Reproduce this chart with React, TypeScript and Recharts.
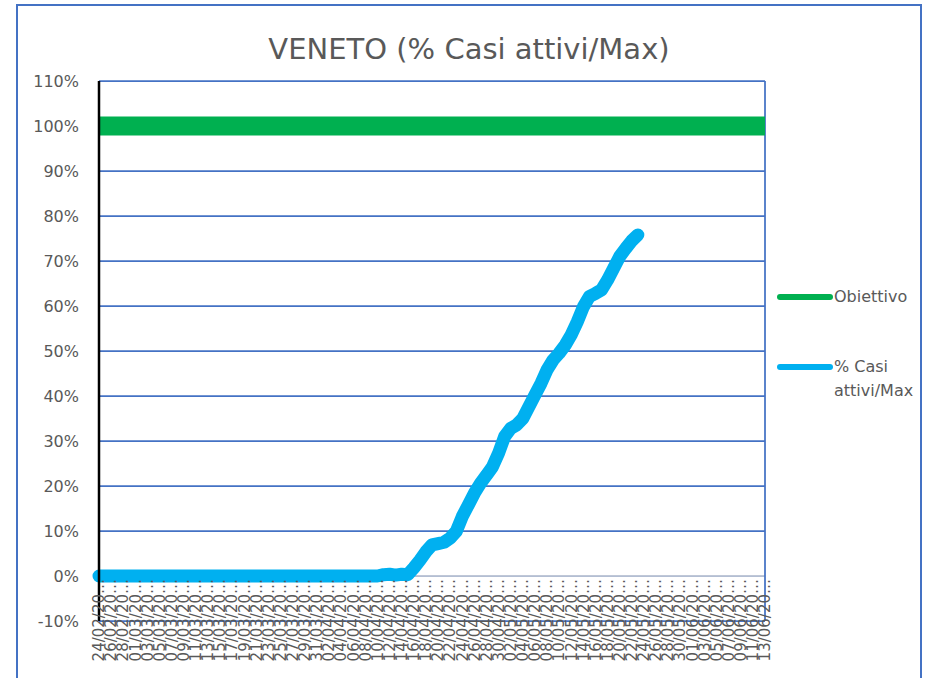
import { CartesianGrid, Legend, Line, LineChart, ReferenceLine, XAxis, YAxis } from 'recharts';

const DATES = [
  '24/02/2020', '25/02/2020', '26/02/2020', '27/02/2020', '28/02/2020', '29/02/2020',
  '01/03/2020', '02/03/2020', '03/03/2020', '04/03/2020', '05/03/2020', '06/03/2020', '07/03/2020', '08/03/2020',
  '09/03/2020', '10/03/2020', '11/03/2020', '12/03/2020', '13/03/2020', '14/03/2020', '15/03/2020', '16/03/2020',
  '17/03/2020', '18/03/2020', '19/03/2020', '20/03/2020', '21/03/2020', '22/03/2020', '23/03/2020', '24/03/2020',
  '25/03/2020', '26/03/2020', '27/03/2020', '28/03/2020', '29/03/2020', '30/03/2020', '31/03/2020',
  '01/04/2020', '02/04/2020', '03/04/2020', '04/04/2020', '05/04/2020', '06/04/2020', '07/04/2020', '08/04/2020',
  '09/04/2020', '10/04/2020', '11/04/2020', '12/04/2020', '13/04/2020', '14/04/2020', '15/04/2020', '16/04/2020',
  '17/04/2020', '18/04/2020', '19/04/2020', '20/04/2020', '21/04/2020', '22/04/2020', '23/04/2020', '24/04/2020',
  '25/04/2020', '26/04/2020', '27/04/2020', '28/04/2020', '29/04/2020', '30/04/2020',
  '01/05/2020', '02/05/2020', '03/05/2020', '04/05/2020', '05/05/2020', '06/05/2020', '07/05/2020', '08/05/2020',
  '09/05/2020', '10/05/2020', '11/05/2020', '12/05/2020', '13/05/2020', '14/05/2020', '15/05/2020', '16/05/2020',
  '17/05/2020', '18/05/2020', '19/05/2020', '20/05/2020', '21/05/2020', '22/05/2020', '23/05/2020', '24/05/2020',
  '25/05/2020', '26/05/2020', '27/05/2020', '28/05/2020', '29/05/2020', '30/05/2020', '31/05/2020',
  '01/06/2020', '02/06/2020', '03/06/2020', '04/06/2020', '05/06/2020', '06/06/2020', '07/06/2020', '08/06/2020',
  '09/06/2020', '10/06/2020', '11/06/2020', '12/06/2020', '13/06/2020'
];

// % casi attivi / max, one value per day from 24/02 (later days have no data yet)
const CASI_ATTIVI = [
  0, 0, 0, 0, 0, 0, 0, 0, 0, 0,
  0, 0, 0, 0, 0, 0, 0, 0, 0, 0,
  0, 0, 0, 0, 0, 0, 0, 0, 0, 0,
  0, 0, 0, 0, 0, 0, 0, 0, 0, 0,
  0, 0, 0, 0, 0, 0, 0, 0.3, 0.4, 0.2,
  0.4, 0.3, 1.8, 3.5, 5.4, 6.9, 7.2, 7.5, 8.4, 9.9,
  13.2, 15.8, 18.4, 20.6, 22.4, 24.3, 27.3, 31.0, 32.8, 33.6,
  35.0, 37.6, 40.2, 42.8, 45.8, 48.0, 49.5, 51.3, 53.6, 56.5,
  59.8, 62.1, 62.8, 63.6, 65.8, 68.4, 71.0, 72.8, 74.5, 75.8
];

const OBIETTIVO = 100;

const SERIES_ORDER = ['obiettivo', 'casi'];

const Y_MIN = -10;
const Y_MAX = 110;
const Y_TICKS = [-10, 0, 10, 20, 30, 40, 50, 60, 70, 80, 90, 100, 110];

const data = DATES.map((date, i) => ({
  date,
  obiettivo: OBIETTIVO,
  casi: i < CASI_ATTIVI.length ? CASI_ATTIVI[i] : null
}));

const FONT = '"DejaVu Sans", sans-serif';
const TEXT = '#595959';
const GRID = '#4472C4';

const CHART_W = 933;
const CHART_H = 678;
const MARGIN = { top: 81, right: 168, left: 19, bottom: 0 };
const X_AXIS_H = 57;
const PLOT_H = CHART_H - MARGIN.top - MARGIN.bottom - X_AXIS_H;
// the date labels hang from the 0% line, not from the bottom of the plot
const ZERO_LIFT = (PLOT_H * (0 - Y_MIN)) / (Y_MAX - Y_MIN);

const DateTick = ({ x, y, payload }: any) => {
  const ty = y - ZERO_LIFT + 3;
  return (
    <text
      x={x}
      y={ty}
      dy="0.35em"
      transform={`rotate(-90 ${x} ${ty})`}
      textAnchor="end"
      fill={TEXT}
      fontSize={15}
      fontFamily={FONT}
    >
      {String(payload.value).slice(0, 8) + '…'}
    </text>
  );
};

const LegendBox = ({ payload }: any) => {
  const items = [...(payload || [])].sort(
    (a: any, b: any) => SERIES_ORDER.indexOf(a.dataKey) - SERIES_ORDER.indexOf(b.dataKey)
  );
  return (
    <div style={{ fontFamily: FONT, fontSize: 16, color: TEXT }}>
      {items.map((item: any, i: number) => (
        <div key={item.value} style={{ display: 'flex', alignItems: 'flex-start', marginTop: i === 0 ? 0 : 46 }}>
          <svg width={58} height={24} style={{ flex: 'none' }}>
            <line x1={4} y1={12} x2={54} y2={12} stroke={item.color} strokeWidth={6} strokeLinecap="round" />
          </svg>
          <span style={{ width: 86, lineHeight: '24px' }}>{item.value}</span>
        </div>
      ))}
    </div>
  );
};

export default function App() {
  return (
    <div
      style={{
        position: 'absolute',
        left: 0,
        top: 0,
        width: CHART_W,
        height: CHART_H,
        overflow: 'hidden',
        background: '#fff',
        fontFamily: FONT
      }}
    >
      <div
        style={{
          position: 'absolute',
          left: 16,
          top: 4,
          width: 902,
          height: 720,
          border: `2px solid ${GRID}`
        }}
      />
      <div
        style={{
          position: 'absolute',
          left: 0,
          top: 32,
          width: 938,
          textAlign: 'center',
          fontSize: 29,
          color: TEXT,
          lineHeight: 'normal'
        }}
      >
        VENETO (% Casi attivi/Max)
      </div>
      <div style={{ position: 'absolute', left: 0, top: 0 }}>
        <LineChart width={CHART_W} height={CHART_H} data={data} margin={MARGIN}>
          <CartesianGrid vertical={false} stroke={GRID} strokeWidth={1.75} />
          <XAxis
            dataKey="date"
            interval={1}
            height={X_AXIS_H}
            axisLine={false}
            tickLine={false}
            tickSize={0}
            tickMargin={0}
            tick={<DateTick />}
          />
          <YAxis
            width={80}
            domain={[Y_MIN, Y_MAX]}
            ticks={Y_TICKS}
            tickFormatter={(v: number) => `${v}%`}
            axisLine={{ stroke: '#000', strokeWidth: 2.5 }}
            tickLine={false}
            tickMargin={14}
            tick={{ fill: TEXT, fontSize: 16, fontFamily: FONT }}
          />
          <ReferenceLine y={0} stroke="#D9D9D9" strokeWidth={1.5} />
          <ReferenceLine x={DATES[DATES.length - 1]} stroke={GRID} strokeWidth={1.75} />
          <Line
            name="Obiettivo"
            dataKey="obiettivo"
            stroke="#00B050"
            strokeWidth={19}
            strokeLinecap="butt"
            dot={false}
            activeDot={false}
            isAnimationActive={false}
          />
          <Line
            name="% Casi attivi/Max"
            dataKey="casi"
            stroke="#00B0F0"
            strokeWidth={13}
            strokeLinecap="round"
            strokeLinejoin="round"
            dot={false}
            activeDot={false}
            isAnimationActive={false}
          />
          <Legend
            layout="vertical"
            align="center"
            verticalAlign="middle"
            content={<LegendBox />}
            wrapperStyle={{ left: 776, top: 285, width: 150 }}
          />
        </LineChart>
      </div>
    </div>
  );
}
